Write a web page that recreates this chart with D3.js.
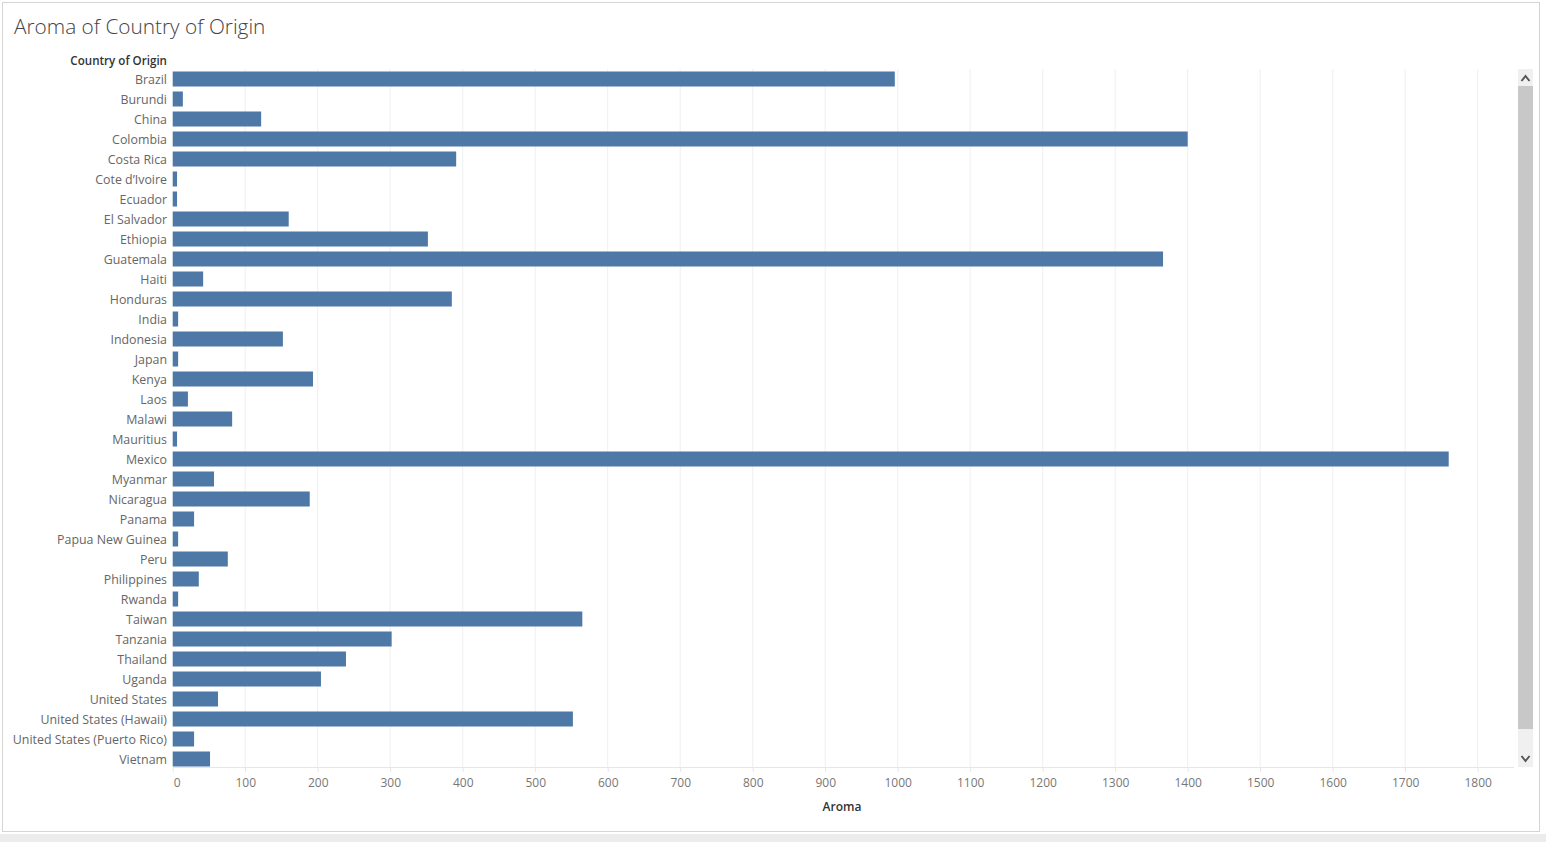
<!DOCTYPE html>
<html><head><meta charset="utf-8">
<script src="https://cdn.jsdelivr.net/npm/d3@7"></script>
<style>
html,body{margin:0;padding:0;background:#fff;overflow:hidden;}
svg{display:block;font-family:"Open Sans",sans-serif;}
</style></head>
<body>
<script>
const countries = ["Brazil","Burundi","China","Colombia","Costa Rica","Cote d\u2019Ivoire","Ecuador","El Salvador","Ethiopia","Guatemala","Haiti","Honduras","India","Indonesia","Japan","Kenya","Laos","Malawi","Mauritius","Mexico","Myanmar","Nicaragua","Panama","Papua New Guinea","Peru","Philippines","Rwanda","Taiwan","Tanzania","Thailand","Uganda","United States","United States (Hawaii)","United States (Puerto Rico)","Vietnam"];
const aroma = [996,14,122,1400,391,6,6,160,352,1366,42,385,7.5,152,7.5,193.5,21,82,6,1760,57,189,29.5,7.5,76,36,7.5,565,302,239,204.5,62.5,552,29.5,51.5];
const xTicks = [0,100,200,300,400,500,600,700,800,900,1000,1100,1200,1300,1400,1500,1600,1700,1800];

const W=1546,H=842;
const FONT="'Open Sans',sans-serif";
const svg=d3.select("body").append("svg").attr("width",W).attr("height",H);

// background strips & frame
svg.append("rect").attr("x",0).attr("y",834).attr("width",W).attr("height",8).attr("fill","#ececec");
svg.append("rect").attr("x",2.5).attr("y",2.5).attr("width",1537).attr("height",829).attr("fill","#fff").attr("stroke","#d4d4d4");

svg.append("text").attr("x",14).attr("y",34).attr("font-size",20.8).attr("fill","#444").attr("font-weight",300).text("Aroma of Country of Origin");

const x=d3.scaleLinear().domain([0,1800]).range([172.7,1477.7]);
const y=d3.scaleBand().domain(countries).range([69,769]).paddingInner(0.25).paddingOuter(0.125);

// gridlines
svg.append("g").selectAll("line").data(xTicks.slice(1)).join("line")
  .attr("x1",d=>x(d)).attr("x2",d=>x(d)).attr("y1",69).attr("y2",767)
  .attr("stroke","#efefef").attr("stroke-width",1);

// axis baseline
svg.append("line").attr("x1",172.5).attr("x2",1514).attr("y1",767.5).attr("y2",767.5).attr("stroke","#e6e6e6");

// bars
svg.append("g").selectAll("rect").data(countries).join("rect")
  .attr("x",x(0)).attr("y",d=>y(d)).attr("height",y.bandwidth())
  .attr("width",(d,i)=>x(aroma[i])-x(0)).attr("fill","#4e79a7");

// y axis labels
const yAxis=d3.axisLeft(y).tickSize(0).tickPadding(6);
const gy=svg.append("g").attr("transform","translate(173,1)").call(yAxis);
gy.select(".domain").remove();
gy.selectAll("text").attr("font-size",12.4).attr("fill","#666").attr("font-family",FONT);

svg.append("text").attr("x",167).attr("y",65).attr("text-anchor","end").attr("font-size",11.6).attr("font-weight",600).attr("fill","#333").attr("font-family",FONT).text("Country of Origin");

// x axis
const xAxis=d3.axisBottom(x).tickValues(xTicks).tickSize(4).tickPadding(6).tickFormat(d3.format("d"));
const gx=svg.append("g").attr("transform","translate(0,768)").call(xAxis);
gx.select(".domain").remove();
gx.selectAll(".tick line").attr("stroke","#e6e6e6");
gx.selectAll("text").attr("font-size",12).attr("fill","#777").attr("font-family",FONT).attr("dx",d=>d===0?4:0);

svg.append("text").attr("x",842).attr("y",811).attr("text-anchor","middle").attr("font-size",12).attr("font-weight",600).attr("fill","#333").attr("font-family",FONT).text("Aroma");

// scrollbar
svg.append("rect").attr("x",1518).attr("y",69).attr("width",15).attr("height",698).attr("fill","#f0f0f0");
svg.append("rect").attr("x",1518).attr("y",86).attr("width",15).attr("height",643).attr("fill","#c8c8c8");
svg.append("path").attr("d","M1521.5,81 L1525.5,76 L1529.5,81").attr("fill","none").attr("stroke","#555").attr("stroke-width",2);
svg.append("path").attr("d","M1521.5,756 L1525.5,761 L1529.5,756").attr("fill","none").attr("stroke","#555").attr("stroke-width",2);
</script>
</body></html>
